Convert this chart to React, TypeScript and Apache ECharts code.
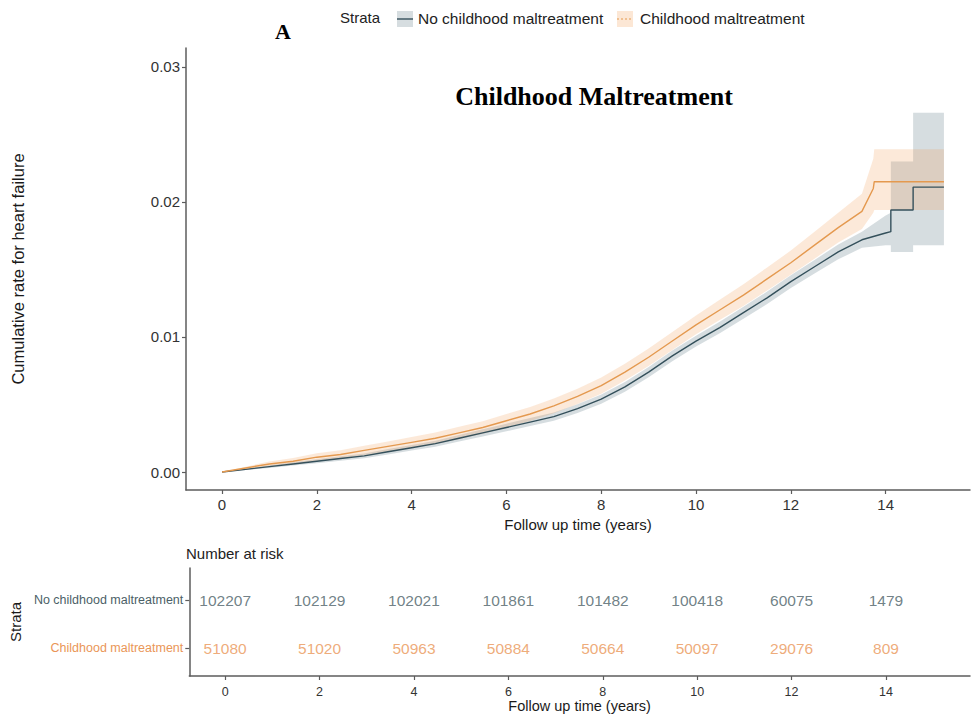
import React, { useEffect, useRef } from "react";
import * as echarts from "echarts";

// ---- Data ----
const xTicks = [0, 2, 4, 6, 8, 10, 12, 14];
const yTicks = [0, 0.01, 0.02, 0.03];

const grayTime = [0, 0.5, 1, 1.5, 2, 2.5, 3, 3.5, 4, 4.5, 5, 5.5, 6, 6.5, 7, 7.5, 8, 8.5, 9, 9.5, 10, 10.5, 11, 11.5, 12, 12.5, 13, 13.5, 14, 14.11, 14.11, 14.58, 14.58, 15.23];
const grayRate = [0, 0.0002, 0.0004, 0.0006, 0.0008, 0.001, 0.0012, 0.0015, 0.0018, 0.0021, 0.0025, 0.0029, 0.0033, 0.0037, 0.0041, 0.0047, 0.0054, 0.0063, 0.0074, 0.0086, 0.0097, 0.0107, 0.0118, 0.0129, 0.0141, 0.0152, 0.0163, 0.0172, 0.0177, 0.0178, 0.0194, 0.0194, 0.0211, 0.0211];
const grayLow = [0, 0.00015, 0.0003, 0.00048, 0.00066, 0.00084, 0.00102, 0.0013, 0.0016, 0.00188, 0.00226, 0.00264, 0.00302, 0.0034, 0.0038, 0.00438, 0.00506, 0.00594, 0.00702, 0.0082, 0.0093, 0.01028, 0.01136, 0.01244, 0.01362, 0.0147, 0.01575, 0.0166, 0.0168, 0.0168, 0.0163, 0.0163, 0.0168, 0.0168];
const grayHigh = [0, 0.00025, 0.0005, 0.00072, 0.00094, 0.00116, 0.00138, 0.0017, 0.002, 0.00232, 0.00274, 0.00316, 0.00358, 0.004, 0.0044, 0.00502, 0.00574, 0.00666, 0.00778, 0.009, 0.0101, 0.01112, 0.01224, 0.01336, 0.01458, 0.0157, 0.01685, 0.0178, 0.019, 0.0192, 0.023, 0.023, 0.0266, 0.0266];

const orangeTime = [0, 0.5, 1, 1.5, 2, 2.5, 3, 3.5, 4, 4.5, 5, 5.5, 6, 6.5, 7, 7.5, 8, 8.5, 9, 9.5, 10, 10.5, 11, 11.5, 12, 12.5, 13, 13.5, 13.74, 13.76, 15.23];
const orangeRate = [0, 0.0003, 0.0006, 0.0008, 0.0011, 0.0013, 0.0016, 0.0019, 0.0022, 0.0025, 0.0029, 0.0033, 0.0038, 0.0043, 0.0049, 0.0056, 0.0064, 0.0074, 0.0085, 0.0097, 0.0109, 0.012, 0.0131, 0.0143, 0.0155, 0.0168, 0.0181, 0.0193, 0.021, 0.0215, 0.0215];
const orangeLow = [0, 0.0002, 0.00042, 0.00056, 0.0008, 0.00098, 0.00125, 0.00153, 0.0018, 0.00208, 0.00245, 0.00283, 0.0033, 0.00378, 0.00435, 0.00503, 0.0058, 0.00678, 0.00785, 0.00903, 0.0102, 0.01125, 0.0123, 0.01345, 0.0146, 0.0158, 0.017, 0.018, 0.0192, 0.0194, 0.0194];
const orangeHigh = [0, 0.0004, 0.00078, 0.00104, 0.0014, 0.00162, 0.00195, 0.00227, 0.0026, 0.00292, 0.00335, 0.00377, 0.0043, 0.00482, 0.00545, 0.00617, 0.007, 0.00802, 0.00915, 0.01037, 0.0116, 0.01275, 0.0139, 0.01515, 0.0164, 0.0178, 0.0192, 0.0206, 0.0232, 0.0239, 0.0239];

const riskTimes = [0, 2, 4, 6, 8, 10, 12, 14];
const riskNoMal = [102207, 102129, 102021, 101861, 101482, 100418, 60075, 1479];
const riskMal = [51080, 51020, 50963, 50884, 50664, 50097, 29076, 809];

const strataNames = ["No childhood maltreatment", "Childhood maltreatment"];

// ---- Styles ----
const SANS = "'Liberation Sans', Arial, sans-serif";
const SERIF = "'Liberation Serif', 'Times New Roman', serif";
const GRAY = "#34505b";
const ORANGE = "#e4994f";
const GRAY_TXT = "#4c5f67";
const ORANGE_TXT = "#ea9657";
const AXIS = "#5c5c5c";

function band(times: number[], low: number[], high: number[], fill: string) {
  return {
    type: "custom",
    xAxisIndex: 0,
    yAxisIndex: 0,
    silent: true,
    z: 1,
    data: times.map((t, i) => [t, low[i], high[i]]),
    encode: { x: 0, y: [1, 2] },
    renderItem: (params: any, api: any) => {
      if (params.dataIndex !== 0) return null;
      const up = times.map((t, i) => api.coord([t, high[i]]));
      const dn = times.map((t, i) => api.coord([t, low[i]])).reverse();
      return {
        type: "polygon",
        shape: { points: up.concat(dn) },
        style: { fill, stroke: "none" },
      };
    },
  };
}

function line(times: number[], vals: number[], color: string, name: string) {
  return {
    type: "line",
    name,
    xAxisIndex: 0,
    yAxisIndex: 0,
    data: times.map((t, i) => [t, vals[i]]),
    showSymbol: false,
    symbol: "none",
    lineStyle: { color, width: 1.4 },
    z: 3,
    silent: true,
  };
}

function risk(vals: number[], row: number, color: string) {
  return {
    type: "scatter",
    xAxisIndex: 1,
    yAxisIndex: 1,
    symbolSize: 0,
    silent: true,
    data: riskTimes.map((t, i) => [t, row, vals[i]]),
    label: {
      show: true,
      position: "inside",
      formatter: (p: any) => String(p.value[2]),
      color,
      fontSize: 15.5,
      fontFamily: SANS,
    },
  };
}

export default function App() {
  const ref = useRef<HTMLDivElement>(null);
  useEffect(() => {
    if (!ref.current) return;
    const chart = echarts.init(ref.current, null, { renderer: "svg" });
    const xCommon = (grid: number, fs: number, margin: number, nameGap: number, nameFs: number) => ({
      gridIndex: grid,
      type: "value",
      min: -0.76,
      max: 15.78,
      splitLine: { show: false },
      axisLine: { show: true, onZero: false, lineStyle: { color: AXIS, width: 1.5 } },
      axisTick: { show: true, customValues: xTicks, length: 4, lineStyle: { color: AXIS, width: 1.2 } },
      axisLabel: { customValues: xTicks, fontSize: fs, color: "#333", margin, fontFamily: SANS },
      name: "Follow up time (years)",
      nameLocation: "middle",
      nameGap,
      nameTextStyle: { fontSize: nameFs, color: "#1a1a1a", fontFamily: SANS },
    });
    const option: any = {
      animation: false,
      grid: [
        { left: 186, top: 48, width: 784, height: 442 },
        { left: 186, top: 568, width: 784, height: 108 },
      ],
      xAxis: [xCommon(0, 15, 7, 26, 15), xCommon(1, 12.5, 9, 22, 14.5)],
      yAxis: [
        {
          gridIndex: 0,
          type: "value",
          min: -0.00133,
          max: 0.0314,
          splitLine: { show: false },
          axisLine: { show: true, onZero: false, lineStyle: { color: AXIS, width: 1.5 } },
          axisTick: { show: true, customValues: yTicks, length: 4, lineStyle: { color: AXIS, width: 1.2 } },
          axisLabel: {
            customValues: yTicks,
            fontSize: 15,
            color: "#333",
            margin: 6,
            fontFamily: SANS,
            formatter: (v: number) => v.toFixed(2),
          },
          name: "Cumulative rate for heart failure",
          nameLocation: "middle",
          nameGap: 160,
          nameTextStyle: { fontSize: 16.5, color: "#1a1a1a", fontFamily: SANS },
        },
        {
          gridIndex: 1,
          type: "value",
          min: 0.42,
          max: 2.67,
          splitLine: { show: false },
          axisLine: { show: true, onZero: false, lineStyle: { color: AXIS, width: 1.5 } },
          axisTick: { show: true, customValues: [1, 2], length: 4, lineStyle: { color: AXIS, width: 1.2 } },
          axisLabel: {
            customValues: [1, 2],
            margin: 6,
            formatter: (v: number) => (v === 2 ? "{g|" + strataNames[0] + "}" : "{o|" + strataNames[1] + "}"),
            rich: {
              g: { color: GRAY_TXT, fontSize: 12.5, fontFamily: SANS },
              o: { color: ORANGE_TXT, fontSize: 12.5, fontFamily: SANS },
            },
          },
          name: "Strata",
          nameLocation: "middle",
          nameGap: 156,
          nameTextStyle: { fontSize: 15, color: "#1a1a1a", fontFamily: SANS },
        },
      ],
      series: [
        band(grayTime, grayLow, grayHigh, "rgba(130,152,162,0.33)"),
        band(orangeTime, orangeLow, orangeHigh, "rgba(242,155,80,0.22)"),
        line(grayTime, grayRate, GRAY, strataNames[0]),
        line(orangeTime, orangeRate, ORANGE, strataNames[1]),
        risk(riskNoMal, 2, GRAY_TXT),
        risk(riskMal, 1, ORANGE_TXT),
      ],
      graphic: [
        { type: "text", left: 340, top: 10, style: { text: "Strata", fontSize: 15, fill: "#222", fontFamily: SANS } },
        { type: "rect", shape: { x: 397, y: 11, width: 16, height: 16 }, style: { fill: "#d6dde0" } },
        { type: "line", shape: { x1: 397, y1: 19, x2: 413, y2: 19 }, style: { stroke: GRAY, lineWidth: 1.4 } },
        { type: "text", left: 418, top: 10, style: { text: strataNames[0], fontSize: 15.5, fill: "#222", fontFamily: SANS } },
        { type: "rect", shape: { x: 617, y: 11, width: 16, height: 16 }, style: { fill: "#fce7d5" } },
        { type: "line", shape: { x1: 617, y1: 19, x2: 633, y2: 19 }, style: { stroke: ORANGE, lineWidth: 1.2, lineDash: [2, 2] } },
        { type: "text", left: 640, top: 10, style: { text: strataNames[1], fontSize: 15.5, fill: "#222", fontFamily: SANS } },
        {
          type: "text",
          x: 283,
          y: 31,
          style: { text: "A", fontSize: 22, fontWeight: "bold", fill: "#000", fontFamily: SERIF, align: "center", verticalAlign: "middle" },
        },
        {
          type: "text",
          x: 594,
          y: 96,
          style: { text: "Childhood Maltreatment", fontSize: 26, fontWeight: "bold", fill: "#000", fontFamily: SERIF, align: "center", verticalAlign: "middle" },
        },
        {
          type: "text",
          x: 186,
          y: 553,
          style: { text: "Number at risk", fontSize: 15, fill: "#222", fontFamily: SANS, align: "left", verticalAlign: "middle" },
        },
      ],
    };
    chart.setOption(option);
    return () => chart.dispose();
  }, []);
  return (
    <div
      ref={ref}
      style={{ position: "fixed", left: 0, top: 0, width: 972, height: 720, background: "#fff" }}
    />
  );
}
